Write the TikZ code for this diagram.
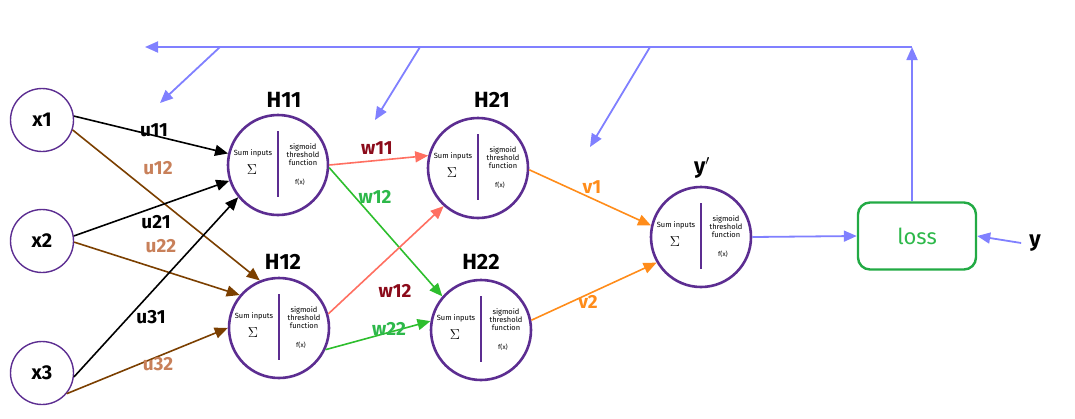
\documentclass[tikz,border=0pt]{standalone}
\usepackage{fontspec}
\setmainfont{Fira Sans}
\usetikzlibrary{arrows.meta}
\definecolor{nurple}{HTML}{5C2D91}
\definecolor{fb}{HTML}{8080FF}
\definecolor{tan}{HTML}{C8805A}
\definecolor{brn}{HTML}{7B3F00}
\definecolor{dred}{HTML}{8B0A1A}
\definecolor{salmon}{HTML}{FF6F61}
\definecolor{grn}{HTML}{2DBE2D}
\definecolor{grnlab}{HTML}{2DB84A}
\definecolor{orng}{HTML}{FF8C1A}
\definecolor{lossgreen}{HTML}{22AA44}
\tikzset{
  neuron/.style={circle,draw=nurple,line width=2.6pt,minimum size=100pt,inner sep=0pt},
  inp/.style={circle,draw=nurple,line width=1.4pt,minimum size=63pt,inner sep=0pt,font=\fontsize{20}{22}\selectfont\bfseries},
  divider/.style={draw=nurple,line width=2pt},
  small/.style={font=\fontsize{7.5}{8}\selectfont,inner sep=0pt,align=center},
  hlab/.style={font=\fontsize{22}{24}\selectfont\bfseries,inner sep=0pt},
  wlab/.style={font=\fontsize{19}{20}\selectfont\bfseries,inner sep=0pt},
  conn/.style={line width=1.6pt,-{Triangle[length=13pt,width=11pt]}},
  fbline/.style={draw=fb,line width=1.8pt},
  fbarrow/.style={fbline,-{Triangle[length=13pt,width=11pt]}},
}
\newcommand\neuron[2]{%
  \node[neuron] (#1) at (#2) {};
  \draw[divider] ([shift={(0,-34)}]#1.center) -- ([shift={(0,32)}]#1.center);
  \node[small] (#1-s) at ([shift={(-25,-12)}]#1.center) {Sum inputs};
  \node[font=\fontsize{15}{15}\selectfont,inner sep=0pt] (#1-sig) at ([shift={(-26,5)}]#1.center) {$\Sigma$};
  \node[small,font=\fontsize{7.5}{8}\selectfont] (#1-t) at ([shift={(25,-10)}]#1.center) {sigmoid\\threshold\\function};
  \node[small,font=\fontsize{6.5}{7}\selectfont] (#1-f) at ([shift={(22,17)}]#1.center) {f(x)};
}
\begin{document}
\begin{tikzpicture}[x=1pt,y=-1pt]
\useasboundingbox (0,0) rectangle (1075,418);
% inputs
\node[inp] (x1) at (42,120) {x1};
\node[inp] (x2) at (42,241) {x2};
\node[inp] (x3) at (42,373) {x3};
% neurons
\neuron{H11}{278,165}
\neuron{H12}{279,328}
\neuron{H21}{478,168}
\neuron{H22}{481,330}
\neuron{yp}{701,237}
\node[hlab] (H11-l) at (284,100) {H11};
\node[hlab] (H21-l) at (492,100) {H21};
\node[hlab] (H12-l) at (283,262) {H12};
\node[hlab] (H22-l) at (481,262) {H22};
\node[hlab] (yp-l) at (702,168) {y$'$};
% loss
\node[draw=lossgreen,line width=2.4pt,rounded corners=12pt,minimum width=118pt,minimum height=67pt,
      text=grnlab,font=\fontsize{22}{24}\selectfont] (loss) at (917,236) {loss};
\node[hlab,inner xsep=8pt] (y) at (1035,243) {y};
% input connections
\draw[conn,black] (x1.7) -- (H11.167);
\draw[conn,brn] (x1.-18) -- (H12.112);
\draw[conn,black] (x2.9) -- (H11.198);
\draw[conn,brn] (x2.-2) -- (H12.140);
\draw[conn,black] (x3.-7) -- (H11.219);
\draw[conn,brn] (x3.-40) -- (H12.180);
\node[wlab] (u11) at (154,130) {u11};
\node[wlab,text=tan] (u12) at (158,168) {u12};
\node[wlab] (u21) at (156,222) {u21};
\node[wlab,text=tan] (u22) at (161,246) {u22};
\node[wlab] (u31) at (151,317) {u31};
\node[wlab,text=tan] (u32) at (158,364) {u32};
% hidden connections
\draw[conn,salmon] (H11.0) -- (H21.166);
\draw[conn,grn] (H11.-3) -- (H22.139);
\draw[conn,salmon] (H12.16) -- (H21.-132);
\draw[conn,grn] (H12.-25) -- (H22.170);
\node[wlab,text=dred] (w11) at (377,148) {w11};
\node[wlab,text=grnlab] (w12a) at (375,197) {w12};
\node[wlab,text=dred] (w12b) at (395,291) {w12};
\node[wlab,text=grnlab] (w22) at (389,329) {w22};
% output connections
\draw[conn,orng] (H21.-2) -- (yp.167);
\draw[conn,orng] (H22.11) -- (yp.210);
\node[wlab,text=orng] (v1) at (592,187) {v1};
\node[wlab,text=orng] (v2) at (588,302) {v2};
% to loss
\draw[fbarrow] (yp.east) -- (loss.west);
\draw[fbarrow] (y.west) -- (loss.east);
% feedback
\coordinate (tr) at (912,47);
\coordinate (tl) at (145,47);
\coordinate (b1) at (220,47);
\coordinate (b2) at (420,47);
\coordinate (b3) at (650,47);
\coordinate (e1) at (160,103);
\coordinate (e2) at (375,120);
\coordinate (e3) at (590,147);
\draw[fbarrow] (loss.north -| tr) -- (tr);
\draw[fbarrow] (tr) -- (tl);
\draw[fbarrow] (b1) -- (e1);
\draw[fbarrow] (b2) -- (e2);
\draw[fbarrow] (b3) -- (e3);
\end{tikzpicture}
\end{document}
